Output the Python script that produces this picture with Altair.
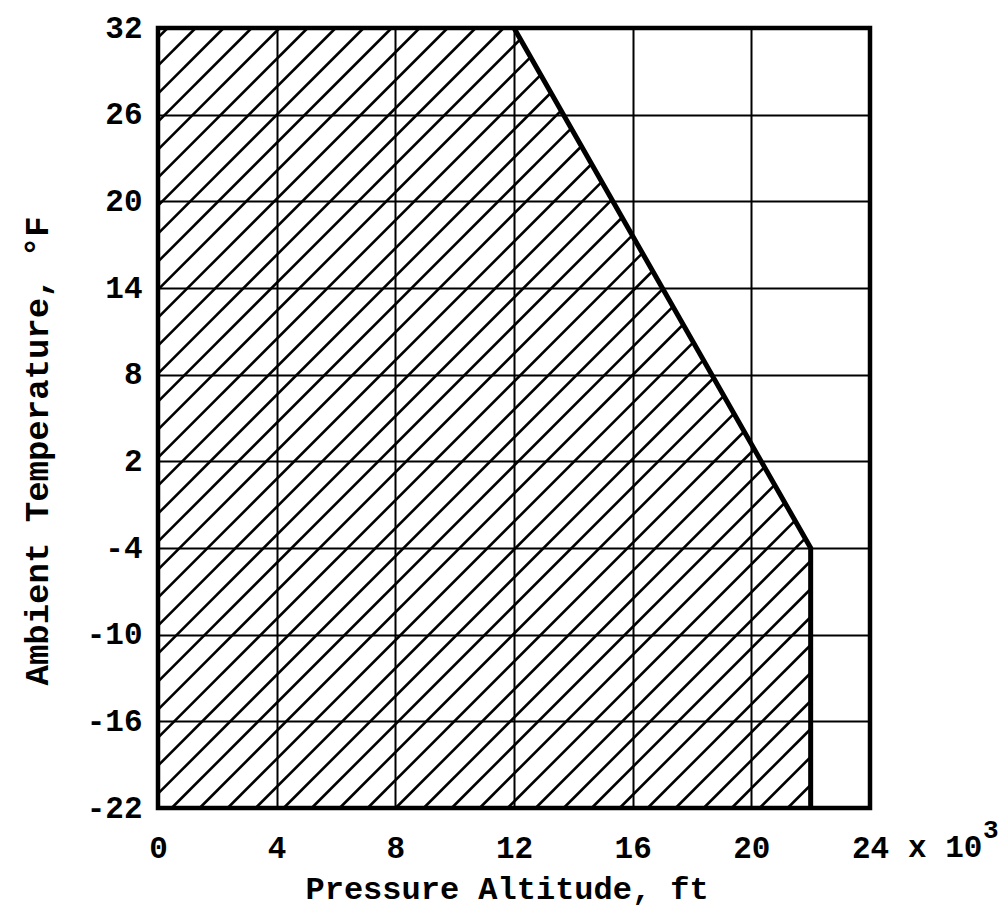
import altair as alt
import pandas as pd

# ---- data ----
X_TICKS = [0, 4, 8, 12, 16, 20, 24]                 # pressure altitude, x 10^3 ft
Y_TICKS = [-22, -16, -10, -4, 2, 8, 14, 20, 26, 32]  # ambient temperature, deg F
BOUNDARY_ALT = [0, 0, 12, 22, 22]                    # envelope vertices (x 10^3 ft)
BOUNDARY_TEMP = [-22, 32, 32, -4, -22]               # envelope vertices (deg F)

X_MIN, X_MAX = X_TICKS[0], X_TICKS[-1]
Y_MIN, Y_MAX = Y_TICKS[0], Y_TICKS[-1]

# ---- layout / style ----
W, H = 712, 780
PAD = {"left": 158, "top": 28, "right": 1005 - 158 - W, "bottom": 915 - 28 - H}
FONT = "Liberation Mono"
HATCH_STEP_PX = 28.0
HATCH_PHASE = 0.46

# ---- hatch segments clipped to the envelope polygon ----
px_x = W / (X_MAX - X_MIN)
px_y = H / (Y_MAX - Y_MIN)
dxdy = px_y / px_x          # 45 degree line on screen
step = HATCH_STEP_PX / px_x
poly = list(zip(BOUNDARY_ALT, BOUNDARY_TEMP))
edges = [(poly[i], poly[(i + 1) % len(poly)]) for i in range(len(poly))]

rows = []
for k in range(-60, 60):
    x0 = HATCH_PHASE + k * step
    ts = []
    for (ax, ay), (bx, by) in edges:
        ex, ey = bx - ax, by - ay
        den = dxdy * ey - ex
        if abs(den) < 1e-12:
            continue
        u = (ax - x0 - dxdy * (ay - Y_MIN)) / den
        if -1e-9 <= u <= 1 + 1e-9:
            ts.append(ay - Y_MIN + u * ey)
    if len(ts) >= 2:
        t1, t2 = min(ts), max(ts)
        if t2 - t1 > 1e-6:
            rows.append({"x": x0 + t1 * dxdy, "y": Y_MIN + t1,
                         "x2": x0 + t2 * dxdy, "y2": Y_MIN + t2})
hatch_df = pd.DataFrame(rows)

edge_df = pd.DataFrame({"alt": BOUNDARY_ALT[2:], "temp": BOUNDARY_TEMP[2:],
                        "o": list(range(len(BOUNDARY_ALT[2:])))})

xs = alt.Scale(domain=[X_MIN, X_MAX], nice=False, zero=False)
ys = alt.Scale(domain=[Y_MIN, Y_MAX], nice=False, zero=False)

x_axis = alt.Axis(values=X_TICKS, grid=True, ticks=False, domain=False,
                  title="Pressure Altitude, ft", titleFont=FONT, titleFontSize=32,
                  titleFontWeight="bold", titleColor="black",
                  titleAlign="left", titleBaseline="alphabetic",
                  titleX=147, titleY=90, titleAngle=0,
                  labelFont=FONT, labelFontSize=31, labelFontWeight="bold",
                  labelColor="black", labelBaseline="middle", labelPadding=40,
                  labelExpr="'' + datum.value",
                  labelFlush=False, labelOverlap=False)
y_axis = alt.Axis(values=Y_TICKS, grid=True, ticks=False, domain=False,
                  title="Ambient Temperature, \u00b0F", titleFont=FONT, titleFontSize=34,
                  titleFontWeight="bold", titleColor="black",
                  titleAlign="left", titleBaseline="alphabetic", titleAngle=-90,
                  titleX=-111, titleY=657,
                  labelFont=FONT, labelFontSize=31, labelFontWeight="bold",
                  labelColor="black", labelPadding=16,
                  labelExpr="'' + datum.value",
                  labelFlush=False, labelOverlap=False)

hatch = alt.Chart(hatch_df).mark_rule(color="black", strokeWidth=2.6).encode(
    x=alt.X("x:Q", scale=xs, axis=x_axis),
    y=alt.Y("y:Q", scale=ys, axis=y_axis),
    x2="x2:Q", y2="y2:Q")

edge = alt.Chart(edge_df).mark_line(color="black", strokeWidth=5,
                                    strokeJoin="miter").encode(
    x=alt.X("alt:Q", scale=xs), y=alt.Y("temp:Q", scale=ys), order="o:Q")

exp_text = alt.Chart(pd.DataFrame({"a": [X_MAX]})).mark_text(
    text="x 10", font=FONT, fontSize=31, fontWeight="bold", color="black",
    align="left", baseline="middle", dx=38, dy=40).encode(
    x=alt.X("a:Q", scale=xs), y=alt.datum(Y_MIN))
sup_text = alt.Chart(pd.DataFrame({"a": [X_MAX]})).mark_text(
    text="3", font=FONT, fontSize=26, fontWeight="bold", color="black",
    align="left", baseline="middle", dx=113, dy=22).encode(
    x=alt.X("a:Q", scale=xs), y=alt.datum(Y_MIN))

chart = alt.layer(hatch, edge, exp_text, sup_text).properties(
    width=W, height=H, padding=PAD,
    autosize=alt.AutoSizeParams(type="none"), background="white"
).configure_view(stroke="black", strokeWidth=4.5).configure_axis(
    gridColor="black", gridWidth=2, gridOpacity=1)

chart.save("out.html", embed_options={"renderer": "svg", "actions": False})
